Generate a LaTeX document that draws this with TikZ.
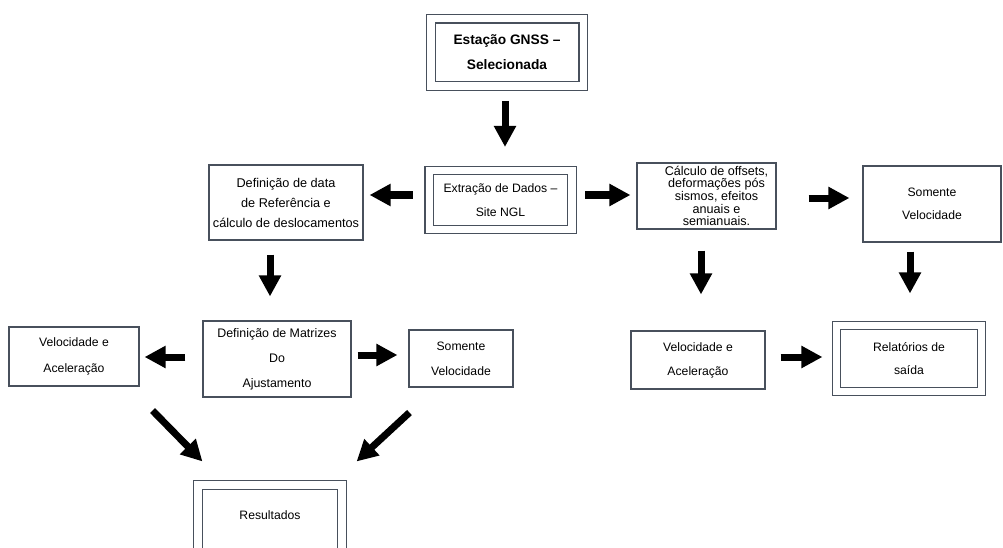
\documentclass[tikz,border=0pt]{standalone}
\usepackage{fontspec}
\setmainfont{Liberation Sans}
\usetikzlibrary{arrows.meta}
\definecolor{borda}{RGB}{72,80,92}

\begin{document}
\begin{tikzpicture}[x=1pt, y=-1pt,
  caixa/.style={draw=borda, line width=1.1pt, align=center, inner sep=0pt,
    font=\fontsize{12.2}{24}\selectfont},
  caixadupla/.style={caixa, double, double distance=7.5pt},
  seta/.style={line width=7pt, -{Triangle[length=21pt, width=21pt]}}]
\useasboundingbox (0,0) rectangle (1003,548);

% Draw boxes.
\node[caixadupla, minimum width=152.5pt, minimum height=67.5pt,
  font=\bfseries\fontsize{13.75}{25}\selectfont] (estacao) at (507,52.5) {Estação GNSS –\\Selecionada};
\node[caixadupla, minimum width=142.5pt, minimum height=59pt] (extracao) at (500.5,200) {Extração de Dados –\\Site NGL};
\node[caixa, minimum width=154pt, minimum height=75pt,
  font=\fontsize{12.7}{20}\selectfont] (data) at (286,202.5) {Definição de data\\de Referência e\\cálculo de deslocamentos};
\node[caixa, minimum width=139pt, minimum height=66pt,
  font={\fontsize{12.6}{12.6}\selectfont\lineskiplimit-100pt\relax}] (calculo) at (706.5,196)
  {\hspace*{20pt}Cálculo de offsets,\\\hspace*{20pt}deformações pós\\\hspace*{20pt}sismos, efeitos\\\hspace*{20pt}anuais e\\\hspace*{20pt}semianuais.};
\node[caixa, minimum width=138pt, minimum height=76pt,
  font=\fontsize{12.2}{23}\selectfont] (somente) at (932,204) {Somente\\Velocidade};

\node[caixa, minimum width=130pt, minimum height=59pt,
  font=\fontsize{12.2}{26}\selectfont] (velacel) at (74,356.5) {Velocidade e\\Aceleração};
\node[caixa, minimum width=148pt, minimum height=76pt,
  font=\fontsize{12.4}{25}\selectfont] (matrizes) at (277,359) {Definição de Matrizes\\Do\\Ajustamento};
\node[caixa, minimum width=104pt, minimum height=57pt,
  font=\fontsize{12.2}{25}\selectfont] (somente2) at (461,358.5) {Somente\\Velocidade};
\node[caixa, minimum width=134pt, minimum height=58pt] (velacel2) at (698,360) {Velocidade e\\Aceleração};
\node[caixadupla, minimum width=145pt, minimum height=66pt,
  font=\fontsize{12.2}{23}\selectfont] (relatorios) at (909,358.5) {Relatórios de\\saída};
\node[caixadupla, minimum width=144pt, minimum height=80pt, text depth=20pt] (resultados) at (270,525) {Resultados};

% Draw arrows.
\draw[seta, shorten <=14pt, shorten >=23pt] ([xshift=-2pt]estacao.south) -- ([xshift=4.5pt]extracao.north);
\draw[seta, shorten <=16pt, shorten >=6pt] ([yshift=5pt]extracao.west) -- ([yshift=7.5pt]data.east);
\draw[seta, shorten <=13pt, shorten >=6pt] ([yshift=5pt]extracao.east) -- ([yshift=1pt]calculo.west);
\draw[seta, shorten <=32pt, shorten >=13pt] ([yshift=-2pt]calculo.east) -- ([yshift=6pt]somente.west);

\draw[seta, shorten <=14pt, shorten >=24pt] ([xshift=-16pt]data.south) -- ([xshift=-7pt]matrizes.north);
\draw[seta, shorten <=21pt, shorten >=36pt] ([xshift=-5.5pt]calculo.south) -- ([xshift=3pt]velacel2.north);
\draw[seta, shorten <=9pt, shorten >=31.5pt] ([xshift=-22pt]somente.south) -- ([xshift=1pt]relatorios.north);

\draw[seta, shorten <=17pt, shorten >=5pt] ([yshift=2pt]matrizes.west) -- ([yshift=-0.5pt]velacel.east);
\draw[seta, shorten <=6pt, shorten >=11pt] ([yshift=4pt]matrizes.east) -- ([yshift=3.5pt]somente2.west);
\draw[seta, shorten <=15pt, shorten >=13.5pt] ([yshift=3pt]velacel2.east) -- ([yshift=1.5pt]relatorios.west);

\draw[seta] ([shift={(13,24)}]velacel.south east) -- ([shift={(5,-23)}]resultados.north west);
\draw[seta] ([shift={(1,25)}]somente2.south west) -- ([shift={(14,-23)}]resultados.north east);

\end{tikzpicture}
\end{document}
